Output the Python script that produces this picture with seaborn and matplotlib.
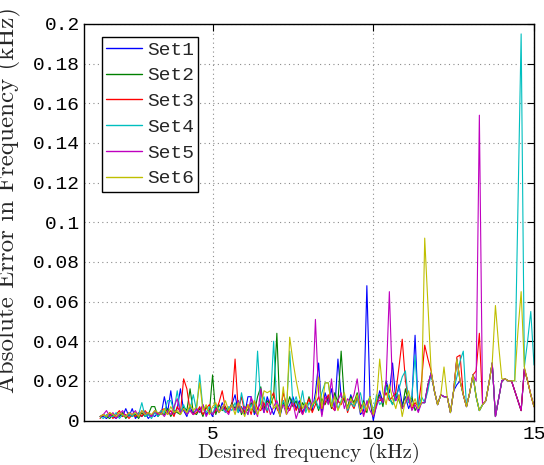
import numpy as np
import pandas as pd
import matplotlib
matplotlib.use("Agg")
import matplotlib.pyplot as plt
import seaborn as sns

# ---------------- data ----------------
# desired frequency (kHz)
freq_khz = [
    1.5, 1.6, 1.7, 1.8, 1.9, 2.0, 2.1, 2.2, 2.3, 2.4,
    2.5, 2.6, 2.7, 2.8, 2.9, 3.0, 3.1, 3.2, 3.3, 3.4,
    3.5, 3.6, 3.7, 3.8, 3.9, 4.0, 4.1, 4.2, 4.3, 4.4,
    4.5, 4.6, 4.7, 4.8, 4.9, 5.0, 5.1, 5.2, 5.3, 5.4,
    5.5, 5.6, 5.7, 5.8, 5.9, 6.0, 6.1, 6.2, 6.3, 6.4,
    6.5, 6.6, 6.7, 6.8, 6.9, 7.0, 7.1, 7.2, 7.3, 7.4,
    7.5, 7.6, 7.7, 7.8, 7.9, 8.0, 8.1, 8.2, 8.3, 8.4,
    8.5, 8.6, 8.7, 8.8, 8.9, 9.0, 9.1, 9.2, 9.3, 9.4,
    9.5, 9.6, 9.7, 9.8, 9.9, 10.0, 10.1, 10.2, 10.3, 10.4,
    10.5, 10.6, 10.7, 10.8, 10.9, 11.0, 11.1, 11.2, 11.3, 11.4,
    11.5, 11.6, 11.7, 11.8, 11.9, 12.0, 12.1, 12.2, 12.3, 12.4,
    12.5, 12.6, 12.7, 12.8, 12.9, 13.0, 13.1, 13.2, 13.3, 13.4,
    13.5, 13.6, 13.7, 13.8, 13.9, 14.0, 14.1, 14.2, 14.3, 14.4,
    14.5, 14.6, 14.7, 14.8, 14.9, 15.0,
]

# absolute error in frequency, in Hz (converted to kHz for plotting)
set1_hz = [
    2, 2, 1, 3, 2, 1, 3, 2, 6, 2,
    6, 1, 3, 2, 4, 1, 3, 2, 4, 3,
    12, 4, 15, 3, 6, 16, 5, 2, 7, 3,
    6, 4, 8, 3, 5, 2, 7, 4, 9, 5,
    6, 8, 13, 4, 7, 3, 12, 12, 3, 6,
    9, 4, 12, 7, 3, 8, 2, 10, 5, 8,
    12, 6, 10, 4, 8, 6, 5, 14, 29, 3,
    14, 9, 16, 5, 31, 12, 10, 6, 13, 8,
    12, 3, 5, 68, 10, 0, 8, 15, 9, 20,
    14, 29, 10, 18, 8, 12, 6, 10, 43, 5,
    9, 9, 18, 24, 15, 8, 13, 12, 12, 4,
    15, 18, 20, 13, 7, 14, 23, 12, 5, 8,
    10, 19, 29, 2, 11, 20, 21, 20, 20, 15,
    10, 5, 26, 20, 13, 7,
]
set2_hz = [
    2, 3, 2, 1, 3, 2, 2, 4, 1, 3,
    2, 3, 1, 4, 2, 3, 7, 7, 2, 4,
    3, 6, 2, 5, 4, 3, 7, 5, 16, 4,
    3, 6, 2, 7, 4, 23, 3, 8, 5, 7,
    4, 9, 6, 10, 3, 7, 5, 9, 4, 12,
    17, 6, 10, 8, 12, 44, 3, 9, 6, 12,
    7, 10, 4, 9, 6, 12, 7, 10, 5, 11,
    8, 12, 6, 14, 9, 35, 10, 7, 12, 9,
    14, 6, 10, 4, 12, 2, 9, 13, 7, 18,
    12, 8, 14, 10, 6, 16, 9, 12, 5, 8,
    9, 9, 18, 24, 15, 8, 13, 12, 12, 4,
    15, 31, 20, 13, 7, 14, 23, 12, 5, 8,
    10, 19, 29, 2, 11, 20, 21, 20, 20, 15,
    10, 5, 26, 20, 13, 7,
]
set3_hz = [
    1, 3, 2, 4, 1, 3, 5, 2, 3, 1,
    3, 2, 4, 2, 5, 3, 2, 4, 3, 5,
    6, 3, 5, 2, 7, 4, 21, 16, 5, 3,
    4, 7, 3, 6, 8, 3, 5, 9, 15, 6,
    4, 8, 31, 5, 12, 4, 8, 3, 10, 6,
    5, 9, 4, 11, 14, 6, 3, 14, 8, 5,
    10, 5, 9, 3, 7, 11, 4, 8, 12, 6,
    9, 13, 7, 5, 10, 8, 12, 4, 9, 6,
    11, 8, 3, 6, 12, 3, 10, 10, 11, 14,
    10, 12, 14, 27, 41, 20, 10, 6, 9, 7,
    20, 38, 31, 25, 15, 8, 13, 12, 12, 4,
    15, 32, 33, 13, 7, 14, 23, 25, 44, 8,
    10, 19, 29, 2, 11, 20, 21, 20, 20, 15,
    10, 5, 26, 20, 13, 7,
]
set4_hz = [
    2, 1, 3, 2, 2, 4, 1, 3, 2, 3,
    2, 4, 3, 9, 2, 3, 1, 4, 2, 5,
    4, 10, 10, 5, 15, 4, 8, 3, 6, 13,
    5, 23, 6, 4, 7, 3, 8, 5, 6, 4,
    7, 5, 9, 4, 14, 6, 3, 8, 5, 35,
    8, 12, 5, 9, 40, 7, 4, 10, 6, 35,
    8, 12, 6, 15, 4, 9, 7, 11, 6, 14,
    19, 19, 8, 12, 6, 10, 13, 5, 9, 7,
    10, 14, 6, 9, 12, 4, 13, 8, 10, 17,
    11, 8, 12, 16, 22, 25, 9, 12, 33, 6,
    12, 9, 15, 24, 15, 8, 13, 12, 12, 4,
    15, 22, 30, 35, 7, 14, 23, 12, 5, 8,
    10, 19, 29, 2, 11, 20, 21, 20, 20, 20,
    107, 195, 27, 40, 55, 28,
]
set5_hz = [
    2, 3, 5, 2, 4, 1, 3, 5, 2, 4,
    3, 5, 2, 5, 3, 4, 2, 5, 3, 4,
    2, 5, 3, 7, 11, 4, 6, 3, 5, 3,
    6, 4, 8, 2, 5, 3, 6, 4, 7, 5,
    3, 8, 5, 10, 4, 7, 3, 12, 6, 2,
    16, 4, 9, 3, 7, 10, 5, 8, 3, 6,
    9, 1, 6, 3, 8, 5, 9, 51, 13, 2,
    12, 8, 21, 5, 10, 14, 6, 11, 9, 13,
    21, 8, 2, 10, 5, 2, 7, 12, 9, 20,
    65, 15, 10, 13, 6, 9, 12, 5, 8, 4,
    9, 9, 18, 24, 15, 8, 13, 12, 12, 4,
    15, 31, 20, 13, 7, 14, 23, 20, 154, 8,
    10, 19, 29, 2, 11, 20, 21, 20, 20, 15,
    10, 5, 26, 20, 13, 7,
]
set6_hz = [
    2, 3, 2, 4, 3, 2, 4, 3, 2, 4,
    3, 4, 2, 5, 3, 4, 3, 5, 4, 3,
    6, 3, 7, 4, 5, 3, 6, 4, 8, 5,
    7, 19, 5, 8, 3, 7, 9, 4, 6, 10,
    5, 8, 3, 9, 6, 2, 8, 5, 10, 3,
    7, 15, 14, 15, 6, 8, 2, 17, 3, 42,
    30, 20, 12, 6, 9, 4, 8, 10, 22, 6,
    19, 19, 7, 12, 5, 9, 14, 6, 11, 8,
    13, 4, 9, 5, 12, 3, 10, 31, 14, 8,
    18, 11, 6, 13, 2, 10, 15, 7, 11, 6,
    9, 92, 58, 25, 15, 8, 13, 27, 12, 4,
    15, 31, 20, 13, 7, 14, 23, 12, 5, 8,
    10, 19, 29, 58, 38, 21, 21, 20, 20, 20,
    45, 65, 27, 20, 13, 7,
]

set_names = ["Set1", "Set2", "Set3", "Set4", "Set5", "Set6"]
set_colors = ["#0000ff", "#008000", "#ff0000", "#00bfbf", "#bf00bf", "#bfbf00"]
y_ticks = [0, 0.02, 0.04, 0.06, 0.08, 0.1, 0.12, 0.14, 0.16, 0.18, 0.2]
y_tick_labels = ["0", "0.02", "0.04", "0.06", "0.08", "0.1", "0.12",
                 "0.14", "0.16", "0.18", "0.2"]
x_ticks = [5, 10, 15]
x_tick_labels = ["5", "10", "15"]

# ---------------- build table ----------------
series = [set1_hz, set2_hz, set3_hz, set4_hz, set5_hz, set6_hz]
frames = []
for name, vals in zip(set_names, series):
    frames.append(pd.DataFrame({
        "freq": freq_khz,
        "err": np.asarray(vals, dtype=float) / 1000.0,
        "set": name,
    }))
df = pd.concat(frames, ignore_index=True)

# ---------------- plot ----------------
sns.set_style("white")
mono = "Liberation Mono"
serif = "cmr10"

fig = plt.figure(figsize=(5.44, 4.65), dpi=100)
ax = fig.add_axes([84 / 544, 1 - 420.5 / 465, 450 / 544, 396.5 / 465])

sns.lineplot(data=df, x="freq", y="err", hue="set", hue_order=set_names,
             palette=set_colors, estimator=None, linewidth=0.8, ax=ax,
             legend=True)

ax.set_xlim(1, 15)
ax.set_ylim(0, 0.2)
ax.set_xticks(x_ticks)
ax.set_xticklabels(x_tick_labels, fontfamily=mono, fontsize=14)
ax.set_yticks(y_ticks)
ax.set_yticklabels(y_tick_labels, fontfamily=mono, fontsize=14)

ax.tick_params(direction="in", length=5, width=0.8, top=True, right=True,
               pad=3, colors="black")
ax.tick_params(axis="x", pad=4)

ax.grid(True, linestyle=(0, (1, 3)), color="#8c8c8c", linewidth=0.8)
ax.set_axisbelow(True)
for s in ax.spines.values():
    s.set_visible(True)
    s.set_color("black")
    s.set_linewidth(1.0)

ax.set_xlabel("Desired frequency (kHz)", fontfamily=serif, fontsize=15,
              labelpad=0)
ax.set_ylabel("Absolute Error in Frequency (kHz)", fontfamily=serif,
              fontsize=18)
ax.yaxis.set_label_coords(-0.14, 0.555)

handles, labels = ax.get_legend_handles_labels()
leg = ax.legend(handles, labels, loc="upper left",
                bbox_to_anchor=(0.04, 0.968), prop={"family": mono, "size": 14},
                frameon=True, fancybox=False, framealpha=1, edgecolor="black",
                handlelength=1.85, handletextpad=0.25, labelspacing=0.42,
                borderpad=0.22, borderaxespad=0)
leg.get_frame().set_linewidth(1.0)
for line in leg.get_lines():
    line.set_linewidth(1.0)

fig.savefig("out.png", dpi=100)
